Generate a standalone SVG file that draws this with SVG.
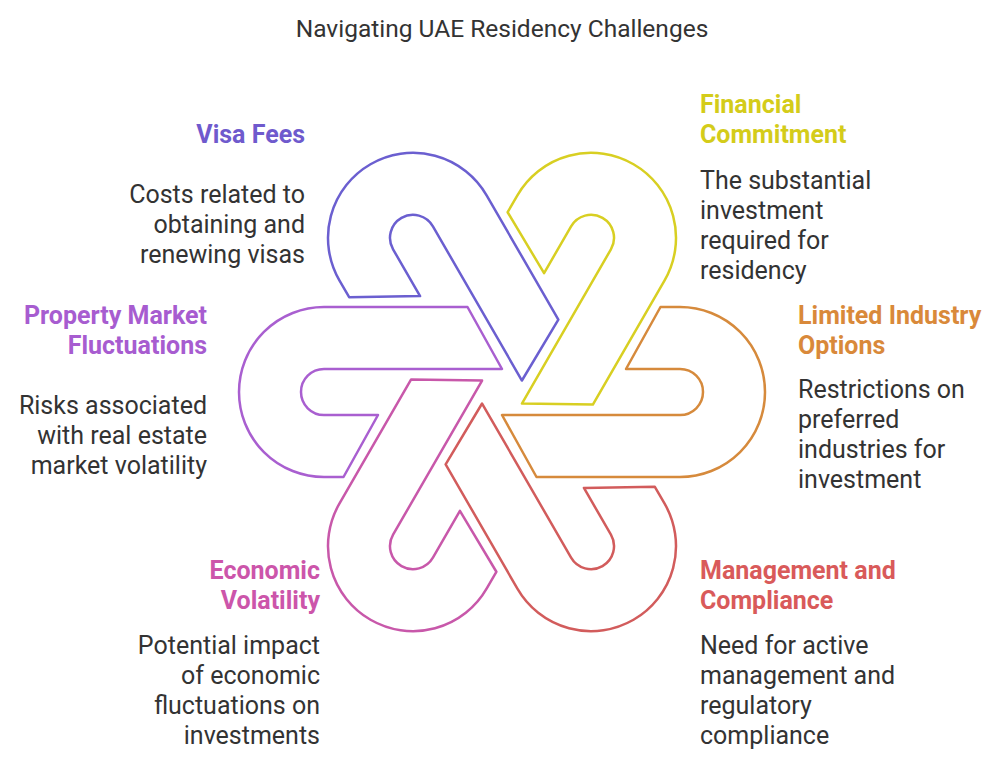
<svg xmlns="http://www.w3.org/2000/svg" width="1007" height="765" viewBox="0 0 1007 765">
<defs>
<style>
.t{font-family:Roboto,"Liberation Sans",sans-serif;font-size:25px;fill:#333}
.h{font-family:Roboto,"Liberation Sans",sans-serif;font-size:25px;font-weight:bold}
.r{text-anchor:end}
.s{fill:#fff;stroke-width:2.5;stroke-linejoin:round}
</style>
<path id="hook" d="M -178,-85 L -34.5,-85 L 0,-23 L -178,-23 A 23 23 0 0 0 -178,23 L -124,23 L -158.5,85 L -178,85 A 85 85 0 0 1 -178,-85 Z"/>
</defs>
<rect width="1007" height="765" fill="#fff"/>
<text x="502" y="37" text-anchor="middle" style="font-family:Roboto,'Liberation Sans',sans-serif;font-size:24.5px;fill:#333">Navigating UAE Residency Challenges</text>
<g id="connectors"/>
<g id="shapes" transform="translate(502,392)">
<use href="#hook" class="s" stroke="#a95fd0" transform="rotate(0)"/>
<use href="#hook" class="s" stroke="#6b5fd0" transform="rotate(60)"/>
<use href="#hook" class="s" stroke="#d8cf22" transform="rotate(120)"/>
<use href="#hook" class="s" stroke="#d68a3c" transform="rotate(180)"/>
<use href="#hook" class="s" stroke="#d25c5c" transform="rotate(240)"/>
<use href="#hook" class="s" stroke="#c858aa" transform="rotate(300)"/>
</g>
<g id="visa">
<text class="h r" x="305" y="143" fill="#6f5acd">Visa Fees</text>
<text class="t r" x="305" y="203">Costs related to</text>
<text class="t r" x="305" y="233">obtaining and</text>
<text class="t r" x="305" y="263">renewing visas</text>
</g>
<g id="financial">
<text class="h" x="700" y="113" fill="#d4cc1a">Financial</text>
<text class="h" x="700" y="143" fill="#d4cc1a">Commitment</text>
<text class="t" x="700" y="189">The substantial</text>
<text class="t" x="700" y="219">investment</text>
<text class="t" x="700" y="249">required for</text>
<text class="t" x="700" y="279">residency</text>
</g>
<g id="property">
<text class="h r" x="207" y="324" fill="#a75cd0">Property Market</text>
<text class="h r" x="207" y="354" fill="#a75cd0">Fluctuations</text>
<text class="t r" x="207" y="414">Risks associated</text>
<text class="t r" x="207" y="444">with real estate</text>
<text class="t r" x="207" y="474">market volatility</text>
</g>
<g id="limited">
<text class="h" x="798" y="324" fill="#d9893a">Limited Industry</text>
<text class="h" x="798" y="354" fill="#d9893a">Options</text>
<text class="t" x="798" y="398">Restrictions on</text>
<text class="t" x="798" y="428">preferred</text>
<text class="t" x="798" y="458">industries for</text>
<text class="t" x="798" y="488">investment</text>
</g>
<g id="economic">
<text class="h r" x="320" y="579" fill="#cc55aa">Economic</text>
<text class="h r" x="320" y="609" fill="#cc55aa">Volatility</text>
<text class="t r" x="320" y="654">Potential impact</text>
<text class="t r" x="320" y="684">of economic</text>
<text class="t r" x="320" y="714">fluctuations on</text>
<text class="t r" x="320" y="744">investments</text>
</g>
<g id="management">
<text class="h" x="700" y="579" fill="#d95a5a">Management and</text>
<text class="h" x="700" y="609" fill="#d95a5a">Compliance</text>
<text class="t" x="700" y="654">Need for active</text>
<text class="t" x="700" y="684">management and</text>
<text class="t" x="700" y="714">regulatory</text>
<text class="t" x="700" y="744">compliance</text>
</g>
</svg>
